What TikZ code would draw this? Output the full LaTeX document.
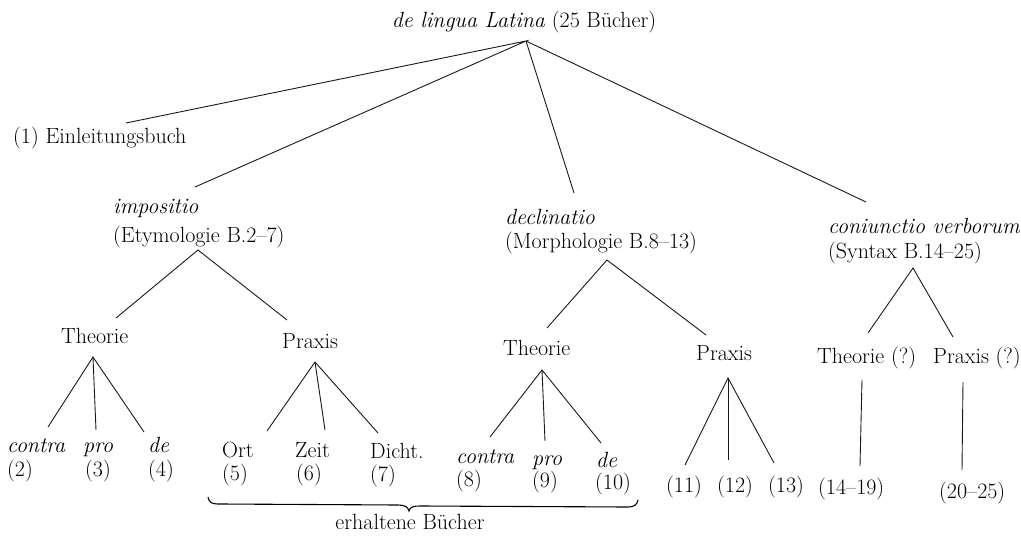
\documentclass[tikz,border=0pt]{standalone}
\usepackage{fontspec}
\begin{document}
\begin{tikzpicture}[x=1pt,y=-1pt,
  lbl/.style={font=\fontsize{22}{26}\selectfont, inner sep=0pt, anchor=base west},
  lblc/.style={font=\fontsize{22}{26}\selectfont, inner sep=0pt, anchor=base},
  edge/.style={line width=0.9pt, black!90}]
\useasboundingbox (0,0) rectangle (1021,541);

% ---------- texts ----------
\node[lblc] (root) at (524,27) {\textit{de lingua Latina} (25 Bücher)};
\node[lbl] (einl) at (13,143) {(1) Einleitungsbuch};

\node[lbl] (imp1) at (113,213) {\textit{impositio}};
\node[lbl] (imp2) at (113,242) {(Etymologie B.2--7)};
\node[lbl] (dec1) at (505,224) {\textit{declinatio}};
\node[lbl] (dec2) at (505,248) {(Morphologie B.8--13)};
\node[lbl] (con1) at (828,233) {\textit{coniunctio verborum}};
\node[lbl] (con2) at (828,258) {(Syntax B.14--25)};

\node[lbl] (th1) at (61,343) {Theorie};
\node[lbl] (pr1) at (282,348) {Praxis};
\node[lbl] (th2) at (503,355) {Theorie};
\node[lbl] (pr2) at (696,360) {Praxis};
\node[lbl] (th3) at (817,363) {Theorie (?)};
\node[lbl] (pr3) at (933,363) {Praxis (?)};

\node[lbl] (c2a) at (7,452) {\textit{contra}};
\node[lbl] (c2b) at (7,476) {(2)};
\node[lbl] (p3a) at (83,452) {\textit{pro}};
\node[lbl] (p3b) at (85,476) {(3)};
\node[lbl] (d4a) at (148,452) {\textit{de}};
\node[lbl] (d4b) at (148,476) {(4)};

\node[lbl] (o5a) at (222,457) {Ort};
\node[lbl] (o5b) at (222,480) {(5)};
\node[lbl] (z6a) at (295,457) {Zeit};
\node[lbl] (z6b) at (296,480) {(6)};
\node[lbl] (d7a) at (370,458) {Dicht.};
\node[lbl] (d7b) at (370,481) {(7)};

\node[lbl] (c8a) at (456,463) {\textit{contra}};
\node[lbl] (c8b) at (456,486) {(8)};
\node[lbl] (p9a) at (532,465) {\textit{pro}};
\node[lbl] (p9b) at (532,487) {(9)};
\node[lbl] (d10a) at (596,467) {\textit{de}};
\node[lbl] (d10b) at (595,489) {(10)};

\node[lbl] (n11) at (666,492) {(11)};
\node[lbl] (n12) at (717,492) {(12)};
\node[lbl] (n13) at (768,492) {(13)};
\node[lbl] (n14) at (818,494) {(14--19)};
\node[lbl] (n20) at (939,498) {(20--25)};

\node[lblc] (erh) at (410,529) {erhaltene Bücher};

% ---------- connector points ----------
\coordinate (R)  at (526,41);
\coordinate (e1) at (126,123);
\coordinate (e2) at (195,187);
\coordinate (e3) at (574,193);
\coordinate (e4) at (866,202);

\coordinate (E)   at (198,250);
\coordinate (et1) at (116,318);
\coordinate (et2) at (287,320);
\coordinate (D)   at (607,260);
\coordinate (dt1) at (547,328);
\coordinate (dt2) at (706,335);
\coordinate (S)   at (913,268);
\coordinate (st1) at (868,333);
\coordinate (st2) at (953,337);

\coordinate (T1) at (93,357);
\coordinate (t1a) at (48,427);
\coordinate (t1b) at (96,430);
\coordinate (t1c) at (144,432);
\coordinate (P1) at (315,362);
\coordinate (p1a) at (267,431);
\coordinate (p1b) at (325,430);
\coordinate (p1c) at (378,433);
\coordinate (T2) at (542,370);
\coordinate (t2a) at (490,437);
\coordinate (t2b) at (545,441);
\coordinate (t2c) at (601,443);
\coordinate (P2) at (728,378);
\coordinate (p2a) at (685,465);
\coordinate (p2b) at (728,460);
\coordinate (p2c) at (774,463);
\coordinate (T3) at (862,380);
\coordinate (t3a) at (860,466);
\coordinate (P3) at (963,382);
\coordinate (p3a) at (962,470);

% ---------- connectors ----------
\draw[edge] (e1) -- (R) -- (e2);
\draw[edge] (R) -- (e3);
\draw[edge] (R) -- (e4);
\draw[edge] (et1) -- (E) -- (et2);
\draw[edge] (dt1) -- (D) -- (dt2);
\draw[edge] (st1) -- (S) -- (st2);
\draw[edge] (t1a) -- (T1) -- (t1c); \draw[edge] (T1) -- (t1b);
\draw[edge] (p1a) -- (P1) -- (p1c); \draw[edge] (P1) -- (p1b);
\draw[edge] (t2a) -- (T2) -- (t2c); \draw[edge] (T2) -- (t2b);
\draw[edge] (p2a) -- (P2) -- (p2c); \draw[edge] (P2) -- (p2b);
\draw[edge] (T3) -- (t3a);
\draw[edge] (P3) -- (p3a);

% ---------- brace ----------
\coordinate (bL) at (208,497);
\coordinate (bM) at (409,511);
\coordinate (bR) at (638,500);
\draw[line width=1.1pt] (bL) .. controls (209,503) and (212,504) .. (220,504)
  -- (398,505) .. controls (405,505) and (408,507) .. (bM)
  .. controls (410,507) and (413,506) .. (420,506)
  -- (628,507) .. controls (634,507) and (637,505) .. (bR);
\end{tikzpicture}
\end{document}
